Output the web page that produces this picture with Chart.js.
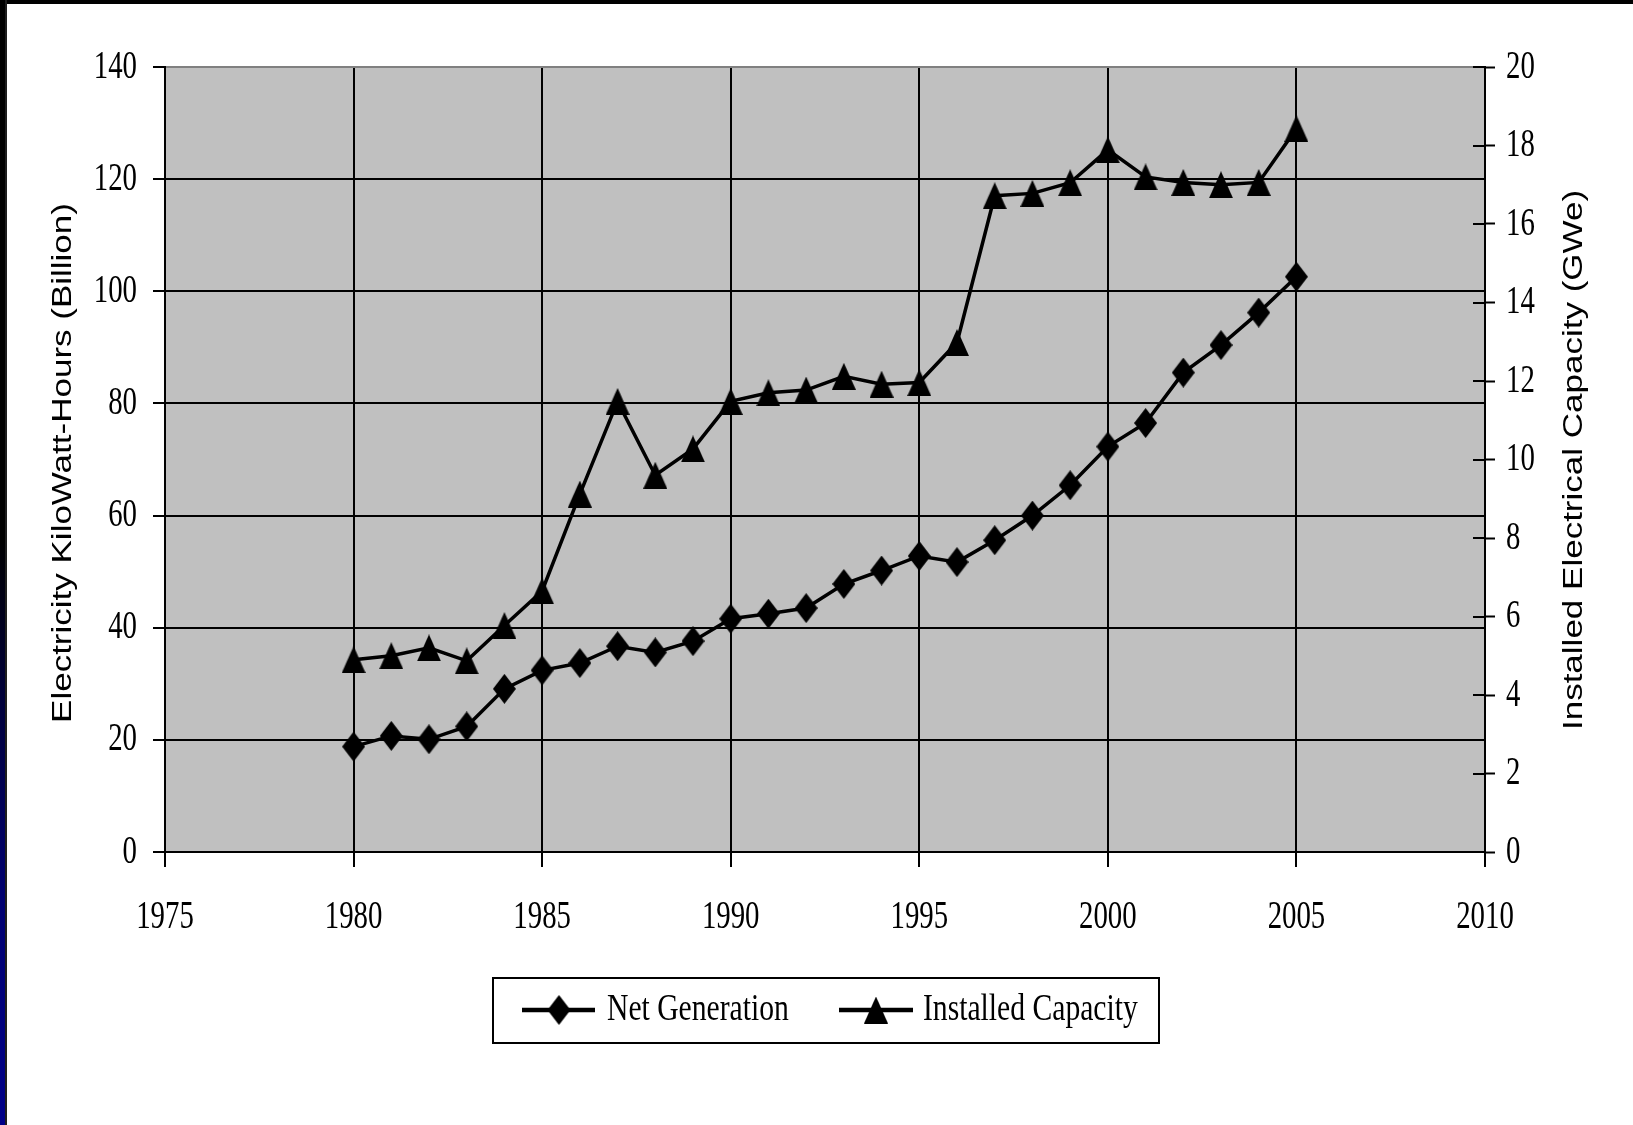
<!DOCTYPE html>
<html>
<head>
<meta charset="utf-8">
<script src="https://cdn.jsdelivr.net/npm/chart.js@4.4.1/dist/chart.umd.min.js"></script>
<style>
  html, body { margin: 0; padding: 0; background: #fff; }
  #wrap { position: relative; width: 1633px; height: 1125px; overflow: hidden; background: #fff; }
  #chart { position: absolute; left: 0; top: 0; }
  .topbar { position: absolute; left: 0; top: 0; width: 1633px; height: 4px; background: #000; }
  .sidebar { position: absolute; left: 0; top: 0; width: 5px; height: 1125px;
    background: linear-gradient(to bottom, #000 0%, #000 48%, #00003a 62%, #000070 80%, #000088 100%); }
  .sideline { position: absolute; left: 5px; top: 0; width: 2px; height: 1125px; background: #1e1e1e; }
</style>
</head>
<body>
<div id="wrap">
  <canvas id="chart" width="1633" height="1125"></canvas>
  <div class="topbar"></div>
  <div class="sidebar"></div>
  <div class="sideline"></div>
</div>
<script>
// Years covered by both series
const years = [1980, 1981, 1982, 1983, 1984, 1985, 1986, 1987, 1988, 1989,
               1990, 1991, 1992, 1993, 1994, 1995, 1996, 1997, 1998, 1999,
               2000, 2001, 2002, 2003, 2004, 2005];

// Net generation, billion kWh (left axis)
const netGeneration = [18.8, 20.7, 20.1, 22.4, 29.1, 32.4, 33.7, 36.7, 35.6, 37.6,
                       41.6, 42.5, 43.5, 47.8, 50.2, 52.8, 51.7, 55.6, 60.0, 65.4,
                       72.3, 76.5, 85.5, 90.4, 96.2, 102.6];

// Installed capacity, GWe (right axis)
const installedCapacity = [4.9, 5.0, 5.2, 4.87, 5.77, 6.65, 9.12, 11.48, 9.6, 10.27,
                           11.48, 11.7, 11.77, 12.12, 11.92, 11.96, 12.98, 16.72, 16.78, 17.05,
                           17.89, 17.2, 17.06, 17.0, 17.06, 18.43];

// Axis ranges and tick steps
const yearAxis = [1975, 2010, 5];
const generationAxis = [0, 140, 20];
const capacityAxis = [0, 20, 2];

const seriesNames = ['Net Generation', 'Installed Capacity'];
const axisTitles = ['Electricity KiloWatt-Hours (Billion)', 'Installed Electrical Capacity (GWe)'];

const SERIF = '"Liberation Serif", "Times New Roman", serif';
const SANS = '"Liberation Sans", Arial, sans-serif';

// Solid black marker images (Excel-style tall diamond and triangle)
function diamondMarker(w, h) {
  const c = document.createElement('canvas');
  c.width = w; c.height = h;
  const g = c.getContext('2d');
  g.fillStyle = '#000';
  g.beginPath();
  g.moveTo(w / 2, 0); g.lineTo(w, h / 2); g.lineTo(w / 2, h); g.lineTo(0, h / 2);
  g.closePath(); g.fill();
  return c;
}
function triangleMarker(w, h) {
  const c = document.createElement('canvas');
  c.width = w; c.height = h;
  const g = c.getContext('2d');
  g.fillStyle = '#000';
  g.beginPath();
  g.moveTo(w / 2, 0); g.lineTo(w, h); g.lineTo(0, h);
  g.closePath(); g.fill();
  return c;
}
const diamondImg = diamondMarker(23, 30);
const triangleImg = triangleMarker(24, 27);

// Horizontally condensed text, optionally rotated
function condensedText(ctx, text, x, y, font, sx, align, rotate) {
  ctx.save();
  ctx.translate(x, y);
  ctx.scale(sx, 1);
  if (rotate) ctx.rotate(rotate);
  ctx.font = font;
  ctx.fillStyle = '#000';
  ctx.textAlign = align;
  ctx.textBaseline = 'middle';
  ctx.fillText(text, 0, 0);
  ctx.restore();
}

const plotBackground = {
  id: 'plotBackground',
  beforeDraw(chart) {
    const { ctx, chartArea: a } = chart;
    ctx.save();
    ctx.fillStyle = '#c0c0c0';
    ctx.fillRect(a.left, a.top, a.right - a.left, a.bottom - a.top);
    ctx.restore();
  }
};

const axisDecor = {
  id: 'axisDecor',
  afterDraw(chart) {
    const { ctx, scales } = chart;
    const xs = scales.x, yl = scales.y, yr = scales.y1;

    // inner halves of the right-axis tick marks
    ctx.save();
    ctx.strokeStyle = '#000';
    ctx.lineWidth = 2;
    yr.ticks.forEach(t => {
      const py = Math.round(yr.getPixelForValue(t.value));
      ctx.beginPath();
      ctx.moveTo(yr.left - 12, py);
      ctx.lineTo(yr.left, py);
      ctx.stroke();
    });
    ctx.restore();

    // tick labels
    xs.ticks.forEach(t => {
      condensedText(ctx, String(t.value), xs.getPixelForValue(t.value), 917,
        '40px ' + SERIF, 0.72, 'center');
    });
    yl.ticks.forEach(t => {
      condensedText(ctx, String(t.value), 137, yl.getPixelForValue(t.value),
        '40px ' + SERIF, 0.72, 'right');
    });
    yr.ticks.forEach(t => {
      condensedText(ctx, String(t.value), 1506, yr.getPixelForValue(t.value),
        '40px ' + SERIF, 0.72, 'left');
    });

    // axis titles, both reading bottom-to-top
    condensedText(ctx, axisTitles[0], 63, 463, '35px ' + SANS, 0.78, 'center', -Math.PI / 2);
    condensedText(ctx, axisTitles[1], 1574, 460, '35px ' + SANS, 0.78, 'center', -Math.PI / 2);

    // legend box
    ctx.save();
    ctx.strokeStyle = '#000';
    ctx.lineWidth = 2;
    ctx.strokeRect(493, 978, 666, 65);
    const ly = 1010;
    ctx.lineWidth = 4.5;
    ctx.beginPath(); ctx.moveTo(522, ly); ctx.lineTo(595, ly); ctx.stroke();
    ctx.drawImage(diamondImg, 559 - diamondImg.width / 2, ly - diamondImg.height / 2);
    ctx.beginPath(); ctx.moveTo(839, ly); ctx.lineTo(913, ly); ctx.stroke();
    ctx.drawImage(triangleImg, 876 - triangleImg.width / 2, ly - triangleImg.height / 2);
    ctx.restore();
    condensedText(ctx, seriesNames[0], 607, ly, '38px ' + SERIF, 0.78, 'left');
    condensedText(ctx, seriesNames[1], 923, ly, '38px ' + SERIF, 0.78, 'left');
  }
};

const toPoints = vals => years.map((yr, i) => ({ x: yr, y: vals[i] }));

new Chart(document.getElementById('chart'), {
  type: 'line',
  data: {
    datasets: [
      {
        label: seriesNames[0],
        data: toPoints(netGeneration),
        yAxisID: 'y',
        borderColor: '#000',
        backgroundColor: '#000',
        borderWidth: 3.5,
        pointStyle: diamondImg,
        pointRadius: 12,
        tension: 0,
        fill: false
      },
      {
        label: seriesNames[1],
        data: toPoints(installedCapacity),
        yAxisID: 'y1',
        borderColor: '#000',
        backgroundColor: '#000',
        borderWidth: 3.5,
        pointStyle: triangleImg,
        pointRadius: 12,
        tension: 0,
        fill: false
      }
    ]
  },
  options: {
    responsive: false,
    animation: false,
    devicePixelRatio: 1,
    events: [],
    layout: { padding: { top: 67, left: 0, right: 0, bottom: 0 }, autoPadding: false },
    plugins: { legend: { display: false }, tooltip: { enabled: false }, title: { display: false } },
    scales: {
      x: {
        type: 'linear',
        position: 'bottom',
        min: yearAxis[0], max: yearAxis[1],
        ticks: { stepSize: yearAxis[2], display: false },
        grid: { color: '#000', lineWidth: 2, drawTicks: true, tickLength: 15, tickColor: '#000', tickWidth: 2 },
        border: { display: true, color: '#000', width: 2 },
        afterFit(scale) { scale.height = 273; }
      },
      y: {
        type: 'linear',
        position: 'left',
        min: generationAxis[0], max: generationAxis[1],
        ticks: { stepSize: generationAxis[2], display: false },
        grid: {
          color: c => (c.tick && c.tick.value === generationAxis[1]) ? '#808080' : '#000',
          lineWidth: 2, drawTicks: true, tickLength: 12, tickColor: '#000', tickWidth: 2
        },
        border: { display: true, color: '#000', width: 2 },
        afterFit(scale) { scale.width = 165; }
      },
      y1: {
        type: 'linear',
        position: 'right',
        min: capacityAxis[0], max: capacityAxis[1],
        ticks: { stepSize: capacityAxis[2], display: false },
        grid: { drawOnChartArea: false, drawTicks: true, tickLength: 10, tickColor: '#000', tickWidth: 2 },
        border: { display: true, color: '#000', width: 2 },
        afterFit(scale) { scale.width = 148; }
      }
    }
  },
  plugins: [plotBackground, axisDecor]
});
</script>
</body>
</html>
